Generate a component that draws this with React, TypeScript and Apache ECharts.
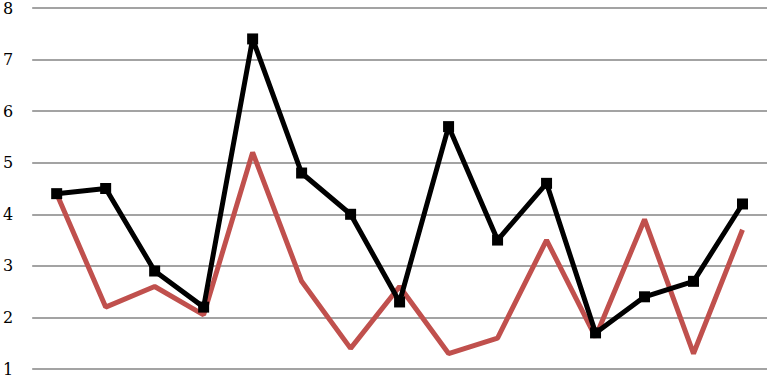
import React, { useEffect, useRef } from "react";
import * as echarts from "echarts";

const categories = ["1", "2", "3", "4", "5", "6", "7", "8", "9", "10", "11", "12", "13", "14", "15"];
const blackSeries = [4.4, 4.5, 2.9, 2.2, 7.4, 4.8, 4.0, 2.3, 5.7, 3.5, 4.6, 1.7, 2.4, 2.7, 4.2];
const redSeries = [4.4, 2.2, 2.6, 2.05, 5.2, 2.7, 1.4, 2.6, 1.3, 1.6, 3.5, 1.62, 3.9, 1.3, 3.7];

export default function App() {
  const ref = useRef<HTMLDivElement>(null);
  useEffect(() => {
    if (!ref.current) return;
    const chart = echarts.init(ref.current, null, { renderer: "svg", width: 767, height: 377 });
    chart.setOption({
      animation: false,
      backgroundColor: "#ffffff",
      grid: { left: 27.4, right: 0, top: 7.5, bottom: 7 },
      xAxis: {
        type: "category",
        data: categories,
        boundaryGap: true,
        axisLine: { show: false },
        axisTick: { show: false },
        axisLabel: { show: false },
      },
      yAxis: {
        type: "value",
        min: 1,
        max: 8,
        interval: 1,
        axisLine: { show: false },
        axisTick: { show: false },
        axisLabel: {
          margin: 19,
          color: "#000",
          fontFamily: "DejaVu Serif",
          fontSize: 16,
        },
        splitLine: { lineStyle: { color: "#858585", width: 1.6 } },
      },
      series: [
        {
          type: "line",
          data: redSeries,
          symbol: "none",
          lineStyle: { color: "#C0504D", width: 5 },
          z: 2,
        },
        {
          type: "line",
          data: blackSeries,
          symbol: "rect",
          symbolSize: 11,
          itemStyle: { color: "#000" },
          lineStyle: { color: "#000", width: 5 },
          z: 3,
        },
      ],
    });
    return () => chart.dispose();
  }, []);
  return <div ref={ref} style={{ width: 767, height: 377, position: "absolute", left: 0, top: 0 }} />;
}
